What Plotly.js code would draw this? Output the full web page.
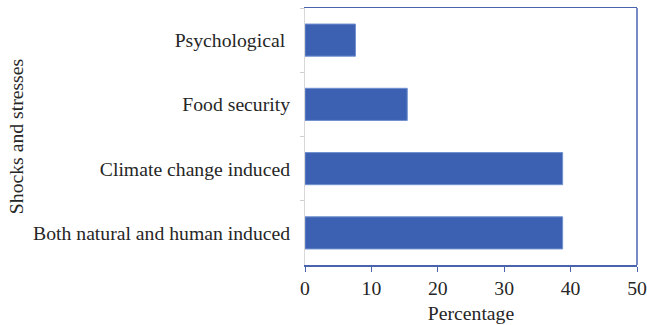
<!DOCTYPE html>
<html>
<head>
<meta charset="utf-8">
<script src="https://cdn.plot.ly/plotly-3.0.1.min.js"></script>
<style>
  html, body { margin: 0; padding: 0; background: #ffffff; }
  #chart { width: 647px; height: 325px; }
</style>
</head>
<body>
<div id="chart"></div>
<script>
// Shocks and stresses reported, listed top to bottom
const categories = [
  "Psychological ",
  "Food security",
  "Climate change induced",
  "Both natural and human induced"
];
// Share of respondents (%)
const percentages = [7.6, 15.4, 38.8, 38.8];
const xTickValues = [0, 10, 20, 30, 40, 50];

const serif = "Liberation Serif, Times New Roman, serif";
const frameBlue = "#4a63ad";
const textColor = "#262626";
const fontSize = 19.7;

const trace = {
  type: "bar",
  orientation: "h",
  y: categories,
  x: percentages,
  width: 0.5,
  marker: {
    color: "#3d61b2",
    line: { color: "#7190cf", width: 1 }
  },
  hoverinfo: "x+y"
};

const layout = {
  width: 647,
  height: 325,
  margin: { l: 305, r: 10, t: 8, b: 60 },
  paper_bgcolor: "#ffffff",
  plot_bgcolor: "#ffffff",
  showlegend: false,
  font: { family: serif, color: textColor, size: fontSize },
  xaxis: {
    range: [0, 50],
    tickvals: xTickValues,
    showgrid: false,
    zeroline: false,
    showline: true,
    linecolor: frameBlue,
    linewidth: 1.5,
    mirror: true,
    ticks: "outside",
    ticklen: 5,
    tickcolor: frameBlue,
    tickfont: { family: serif, size: fontSize, color: textColor },
    title: { text: "Percentage", font: { family: serif, size: fontSize, color: textColor }, standoff: 8 }
  },
  yaxis: {
    autorange: "reversed",
    showgrid: false,
    zeroline: false,
    showline: true,
    linecolor: "#d8d8d8",
    linewidth: 1,
    ticks: "outside",
    tickson: "boundaries",
    ticklen: 4,
    tickcolor: "#d0d0d0",
    ticklabelstandoff: 10,
    tickfont: { family: serif, size: fontSize, color: textColor },
    title: { text: "Shocks and stresses", font: { family: serif, size: fontSize, color: textColor }, standoff: 4 }
  },
  shapes: [
    {
      type: "line", xref: "paper", yref: "paper",
      x0: 1, x1: 1, y0: 0, y1: 1,
      line: { color: frameBlue, width: 1.5 }
    }
  ]
};

Plotly.newPlot("chart", [trace], layout, { displayModeBar: false, staticPlot: true });
</script>
</body>
</html>
